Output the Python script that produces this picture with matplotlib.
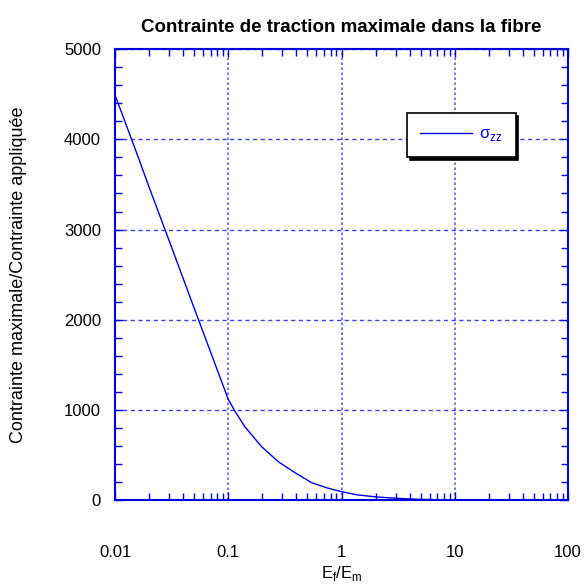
import numpy as np
import matplotlib.pyplot as plt
from matplotlib.ticker import MultipleLocator, FixedLocator, NullFormatter

plt.rcParams['font.family'] = ['Liberation Sans', 'DejaVu Sans']

# rapport des modules E_f/E_m et contrainte max / contrainte appliquee
ef_em = [0.01, 0.015, 0.02, 0.03, 0.05, 0.07, 0.1, 0.1145, 0.14,
         0.197, 0.276, 0.388, 0.545, 0.764, 1.0, 1.36, 2.0, 3.0, 5.0, 10.0]
sigma_zz = [4490, 3900, 3470, 2880, 2130, 1640, 1120, 990, 817,
            596, 430, 308, 197, 135, 98, 63, 40, 25, 12, 5]

xticks = [0.01, 0.1, 1, 10, 100]
xticklabels = ['0.01', '0.1', '1', '10', '100']
yticks = [0, 1000, 2000, 3000, 4000, 5000]

blue = '#0000dd'

fig = plt.figure(figsize=(5.85, 5.87), dpi=100)
ax = fig.add_axes([0.1966, 0.1474, 0.7744, 0.7691])

ax.plot(ef_em, sigma_zz, color=blue, lw=1.0, label='σ$_\\mathregular{zz}$')

ax.set_xscale('log')
ax.set_xlim(0.01, 100)
ax.set_ylim(0, 5000)

ax.set_xticks(xticks)
ax.set_xticklabels(xticklabels)
ax.set_yticks(yticks)
minor = [m * 10.0 ** e for e in range(-2, 2) for m in range(2, 10)]
ax.xaxis.set_minor_locator(FixedLocator(minor))
ax.xaxis.set_minor_formatter(NullFormatter())
ax.yaxis.set_minor_locator(MultipleLocator(200))

ax.tick_params(which='both', direction='in', top=True, right=True,
               color=blue, labelsize=12, labelcolor='black')
ax.tick_params(axis='x', which='both', pad=32)
ax.tick_params(axis='y', which='both', pad=10)
ax.tick_params(which='major', length=6, width=1)
ax.tick_params(which='minor', length=5, width=1)

for s in ax.spines.values():
    s.set_color(blue)
    s.set_linewidth(1.5)

# grille : traits verticaux pointilles, horizontaux tirets
ax.xaxis.grid(True, which='major', color='#6060ee', lw=1.2, linestyle=(0, (1.5, 1.5)))
ax.yaxis.grid(True, which='major', color='#4040ee', lw=1.0, linestyle=(0, (3, 2.5)))

ax.set_title('Contrainte de traction maximale dans la fibre',
             fontsize=13.5, fontweight='bold', pad=12)
ax.set_xlabel(r'E$_\mathregular{f}$/E$_\mathregular{m}$', fontsize=12)
ax.xaxis.set_label_coords(0.5, -0.14)
ax.set_ylabel('Contrainte maximale/Contrainte appliquée', fontsize=13)
ax.yaxis.set_label_coords(-0.195, 0.5)

leg = ax.legend(loc='upper left', bbox_to_anchor=(0.6446, 0.858),
                fancybox=False, framealpha=1, edgecolor='black',
                shadow={'color': 'black', 'alpha': 1}, handlelength=3.1,
                fontsize=12, labelcolor=blue, borderpad=0.8,
                handletextpad=0.4, borderaxespad=0)
leg.get_frame().set_linewidth(1.2)

fig.savefig('out.png', dpi=100)
